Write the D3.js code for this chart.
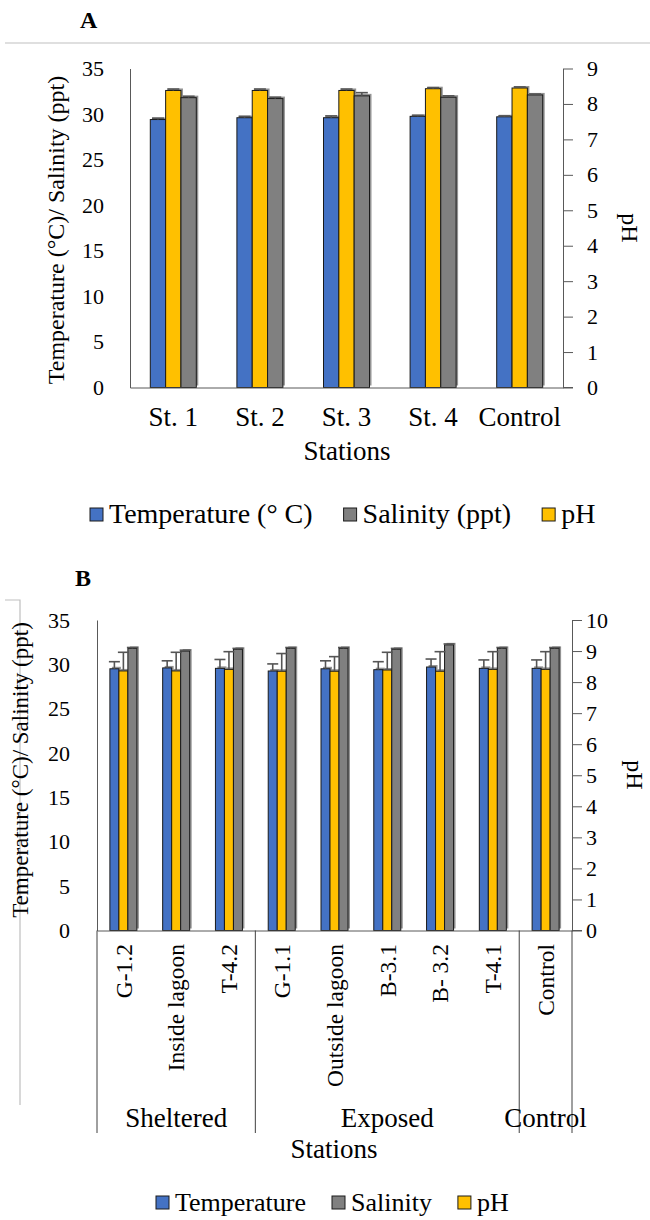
<!DOCTYPE html>
<html><head><meta charset="utf-8">
<script src="https://cdn.jsdelivr.net/npm/d3@7"></script>
<style>
body{margin:0;background:#fff}
</style>
</head><body><script>
// ---------- DATA ----------
const stationsA = ["St. 1", "St. 2", "St. 3", "St. 4", "Control"];
const tempA    = [29.4, 29.6, 29.6, 29.75, 29.7];
const tempErrA = [0.15, 0.15, 0.2, 0.1, 0.1];
const phA      = [8.38, 8.38, 8.38, 8.43, 8.45];
const phErrA   = [0.04, 0.04, 0.04, 0.03, 0.03];
const salA     = [31.8, 31.7, 32.0, 31.85, 32.1];
const salErrA  = [0.15, 0.15, 0.35, 0.15, 0.1];
const leftTicksA  = [0, 5, 10, 15, 20, 25, 30, 35];
const rightTicksA = [0, 1, 2, 3, 4, 5, 6, 7, 8, 9];
const legendA = ["Temperature (° C)", "Salinity (ppt)", "pH"];

const stationsB = ["G-1.2", "Inside lagoon", "T-4.2", "G-1.1", "Outside lagoon", "B-3.1", "B- 3.2", "T-4.1", "Control"];
const tempB    = [29.5, 29.6, 29.55, 29.25, 29.5, 29.4, 29.7, 29.55, 29.55];
const tempErrB = [0.8, 0.8, 1.0, 0.8, 0.9, 0.9, 0.9, 0.95, 0.95];
const phB      = [8.36, 8.36, 8.41, 8.35, 8.35, 8.39, 8.35, 8.41, 8.41];
const phErrB   = [0.6, 0.6, 0.57, 0.57, 0.47, 0.57, 0.63, 0.57, 0.57];
const salB     = [31.8, 31.5, 31.7, 31.8, 31.8, 31.7, 32.2, 31.8, 31.8];
const salErrB  = [0.1, 0.1, 0.1, 0.1, 0.1, 0.1, 0.1, 0.1, 0.1];
const groupNamesB = ["Sheltered", "Exposed", "Control"];
const groupSizesB = [3, 5, 1];
const leftTicksB  = [0, 5, 10, 15, 20, 25, 30, 35];
const rightTicksB = [0, 1, 2, 3, 4, 5, 6, 7, 8, 9, 10];
const legendB = ["Temperature", "Salinity", "pH"];

// ---------- STYLE ----------
const COLORS = {t: "#4472C4", p: "#FFC000", s: "#808080"};
const AXIS = "#595959";
const FONT = '"Times New Roman", "Liberation Serif", Tinos, "Nimbus Roman", "DejaVu Serif", serif';

const svg = d3.select("body").append("svg").attr("width", 650).attr("height", 1220)
  .attr("font-family", FONT);

function T(sel) { return sel.attr("font-family", FONT).attr("fill", "#000"); }

function styleAxis(g, fs) {
  g.attr("font-family", FONT);
  g.selectAll("path.domain").attr("stroke", AXIS);
  g.selectAll(".tick line").attr("stroke", AXIS);
  g.selectAll(".tick text").attr("font-size", fs).attr("fill", "#000").attr("font-family", FONT);
}

function drawBars(g, cats, x, yL, yR, groupW, capW, series) {
  const inner = d3.scaleBand().domain(series.map(s => s.key)).range([0, groupW]);
  const x0 = c => x(c) + x.bandwidth() / 2 - groupW / 2;
  const sc = s => s.axis === "R" ? yR : yL;
  series.forEach(s => {
    const y = sc(s);
    g.append("g").selectAll("rect").data(cats).join("rect")
      .attr("x", c => x0(c) + inner(s.key) + 2)
      .attr("y", (c, i) => y(s.vals[i]) - 2)
      .attr("width", inner.bandwidth())
      .attr("height", (c, i) => y(0) - y(s.vals[i]))
      .attr("fill", "#3a3a3a").attr("opacity", 0.55);
  });
  series.forEach(s => {
    const y = sc(s);
    g.append("g").selectAll("rect").data(cats).join("rect")
      .attr("x", c => x0(c) + inner(s.key))
      .attr("y", (c, i) => y(s.vals[i]))
      .attr("width", inner.bandwidth())
      .attr("height", (c, i) => y(0) - y(s.vals[i]))
      .attr("fill", s.color).attr("stroke", "#1a1a1a").attr("stroke-width", 1);
  });
  series.forEach(s => {
    const y = sc(s);
    const eg = g.append("g").attr("stroke", "#555").attr("stroke-width", 1.6);
    cats.forEach((c, i) => {
      const cx = x0(c) + inner(s.key) + inner.bandwidth() / 2;
      const top = y(s.vals[i] + s.errs[i]);
      eg.append("line").attr("x1", cx).attr("x2", cx).attr("y1", y(s.vals[i])).attr("y2", top);
      eg.append("line").attr("x1", cx - capW / 2).attr("x2", cx + capW / 2).attr("y1", top).attr("y2", top);
    });
  });
}

function drawLegend(labels, startX, baseY, fs, sq, gap) {
  const g = svg.append("g");
  let cx = startX;
  const keys = ["t", "s", "p"];
  labels.forEach((lab, i) => {
    g.append("rect").attr("x", cx).attr("y", baseY - sq - 2).attr("width", sq).attr("height", sq)
      .attr("fill", COLORS[keys[i]]).attr("stroke", "#1a1a1a").attr("stroke-width", 1);
    const t = T(g.append("text")).attr("x", cx + sq + 6).attr("y", baseY).attr("font-size", fs).text(lab);
    cx += sq + 6 + t.node().getComputedTextLength() + gap;
  });
}

// ================= PANEL A =================
T(svg.append("text")).attr("x", 80).attr("y", 28).attr("font-size", 24).attr("font-weight", "bold").text("A");
svg.append("line").attr("x1", 5).attr("x2", 650).attr("y1", 43).attr("y2", 43).attr("stroke", "#bfbfbf").attr("stroke-width", 1.2);

{
  const x = d3.scaleBand().domain(stationsA).range([130, 563]);
  const yL = d3.scaleLinear().domain([0, 35]).range([387.5, 68.5]);
  const yR = d3.scaleLinear().domain([0, 9]).range([387.5, 68.5]);
  const g = svg.append("g");

  drawBars(g, stationsA, x, yL, yR, 46, 12, [
    {key: "t", vals: tempA, errs: tempErrA, color: COLORS.t, axis: "L"},
    {key: "p", vals: phA, errs: phErrA, color: COLORS.p, axis: "R"},
    {key: "s", vals: salA, errs: salErrA, color: COLORS.s, axis: "L"}
  ]);

  const la = g.append("g").attr("transform", "translate(130,0)")
    .call(d3.axisLeft(yL).tickValues(leftTicksA).tickSize(0).tickSizeOuter(0).tickPadding(26));
  styleAxis(la, 22);
  const ra = g.append("g").attr("transform", "translate(563,0)")
    .call(d3.axisRight(yR).tickValues(rightTicksA).tickSize(10).tickSizeOuter(0).tickPadding(14));
  styleAxis(ra, 22);
  const ba = g.append("g").attr("transform", "translate(0,387.5)")
    .call(d3.axisBottom(x).tickSize(0).tickSizeOuter(0).tickPadding(19));
  styleAxis(ba, 27);
  g.append("line").attr("x1", 563).attr("x2", 573).attr("y1", 387.5).attr("y2", 387.5).attr("stroke", AXIS);

  T(svg.append("text")).attr("transform", "translate(64,230) rotate(-90)").attr("text-anchor", "middle")
    .attr("font-size", 24).text("Temperature (°C)/ Salinity (ppt)");
  T(svg.append("text")).attr("transform", "translate(622,228) rotate(90)").attr("text-anchor", "middle")
    .attr("font-size", 24).text("pH");
  T(svg.append("text")).attr("x", 347).attr("y", 460).attr("text-anchor", "middle").attr("font-size", 27).text("Stations");
  drawLegend(legendA, 90, 523, 28, 13, 31);
}

// ================= PANEL B =================
T(svg.append("text")).attr("x", 75).attr("y", 586).attr("font-size", 24).attr("font-weight", "bold").text("B");
svg.append("path").attr("d", "M5,600H20V1105").attr("fill", "none").attr("stroke", "#bfbfbf").attr("stroke-width", 1.2);

{
  const x = d3.scaleBand().domain(stationsB).range([97, 572]);
  const yL = d3.scaleLinear().domain([0, 35]).range([930.5, 620]);
  const yR = d3.scaleLinear().domain([0, 10]).range([930.5, 620]);
  const g = svg.append("g");

  drawBars(g, stationsB, x, yL, yR, 27, 11, [
    {key: "t", vals: tempB, errs: tempErrB, color: COLORS.t, axis: "L"},
    {key: "p", vals: phB, errs: phErrB, color: COLORS.p, axis: "R"},
    {key: "s", vals: salB, errs: salErrB, color: COLORS.s, axis: "L"}
  ]);

  const la = g.append("g").attr("transform", "translate(97,0)")
    .call(d3.axisLeft(yL).tickValues(leftTicksB).tickSize(0).tickSizeOuter(0).tickPadding(27));
  styleAxis(la, 22);
  const ra = g.append("g").attr("transform", "translate(572,0)")
    .call(d3.axisRight(yR).tickValues(rightTicksB).tickSize(10).tickSizeOuter(0).tickPadding(4));
  styleAxis(ra, 22);
  const ba = g.append("g").attr("transform", "translate(0,930.5)")
    .call(d3.axisBottom(x).tickSize(0).tickSizeOuter(0).tickFormat(""));
  styleAxis(ba, 22);
  g.append("line").attr("x1", 572).attr("x2", 582).attr("y1", 930.5).attr("y2", 930.5).attr("stroke", AXIS);

  g.append("g").selectAll("text").data(stationsB).join("text")
    .attr("font-family", FONT).attr("fill", "#000")
    .attr("transform", d => `translate(${x(d) + x.bandwidth() / 2},944) rotate(-90)`)
    .attr("text-anchor", "end").attr("dy", "0.35em").attr("font-size", 23.5).text(d => d);

  let idx = 0;
  const bounds = [0];
  groupSizesB.forEach(n => { idx += n; bounds.push(idx); });
  const edgeX = i => i < stationsB.length ? x(stationsB[i]) : x.range()[1];
  bounds.forEach(b => {
    g.append("line").attr("x1", edgeX(b)).attr("x2", edgeX(b)).attr("y1", 930.5).attr("y2", 1133)
      .attr("stroke", "#404040").attr("stroke-width", 1);
  });
  groupNamesB.forEach((name, i) => {
    const cx = (edgeX(bounds[i]) + edgeX(bounds[i + 1])) / 2;
    T(g.append("text")).attr("x", cx).attr("y", 1127).attr("text-anchor", "middle").attr("font-size", 27).text(name);
  });

  T(svg.append("text")).attr("transform", "translate(28,770) rotate(-90)").attr("text-anchor", "middle")
    .attr("font-size", 23).text("Temperature (°C)/ Salinity (ppt)");
  T(svg.append("text")).attr("transform", "translate(627,775) rotate(90)").attr("text-anchor", "middle")
    .attr("font-size", 24).text("pH");
  T(svg.append("text")).attr("x", 334).attr("y", 1158).attr("text-anchor", "middle").attr("font-size", 27).text("Stations");
  drawLegend(legendB, 156, 1211, 26, 13, 26);
}
</script></body></html>
